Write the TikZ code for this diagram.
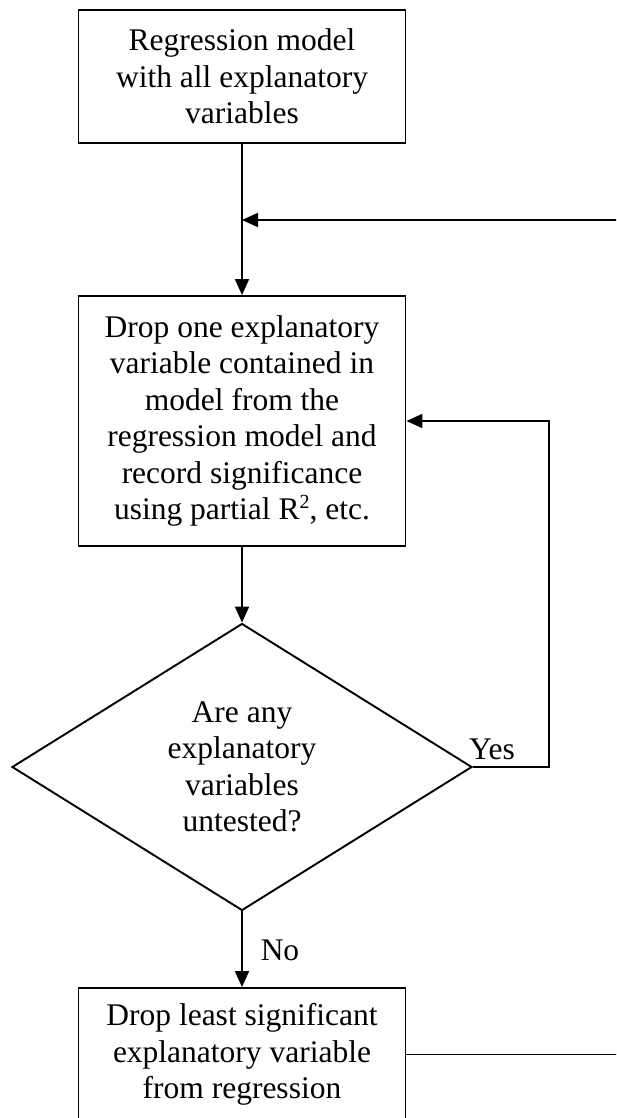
\documentclass[tikz,border=0pt]{standalone}
\usepackage{fontspec}
\setmainfont{Liberation Serif}
\usetikzlibrary{shapes.geometric,arrows.meta}

\tikzset{
  flow/.style={line width=1.9pt, draw=black},
  arrowline/.style={flow, -{Triangle[length=16pt,width=14pt]}},
  procbox/.style={rectangle, draw=black, line width=1.9pt, fill=white,
    minimum width=327pt, inner sep=0pt, align=center,
    font=\fontsize{31.5}{36.5}\selectfont},
  decision/.style={diamond, draw=black, line width=1.9pt, fill=white,
    minimum width=460pt, minimum height=287pt, inner sep=0pt,
    shape aspect=1.6, align=center,
    font=\fontsize{31.5}{36.5}\selectfont},
  edgelabel/.style={font=\fontsize{31.5}{36.5}\selectfont, inner sep=0pt}
}
\newcommand{\sqmark}{\raisebox{0.75ex}{\fontsize{20}{20}\selectfont 2}}

\begin{document}
\begin{tikzpicture}[x=1pt,y=-1pt]
  \useasboundingbox (0,0) rectangle (616,1118);
  \fill[white] (0,0) rectangle (616,1118);
  \clip (0,0) rectangle (616,1118);

  % process steps
  \node[procbox, minimum height=133pt] (start) at (242,76.5)
    {Regression model\\with all explanatory\\variables};
  \node[procbox, minimum height=250pt] (drop) at (242,421)
    {Drop one explanatory\\variable contained in\\model from the\\regression model and\\record significance\\using partial R\sqmark, etc.};
  \node[decision] (test) at (242,767)
    {Are any\\explanatory\\variables\\untested?};
  \node[procbox, minimum height=133pt] (least) at (242,1054.5)
    {Drop least significant\\explanatory variable\\from regression};

  % routing points
  \coordinate (merge) at (242,220);
  \coordinate (yescorner) at (549,767);
  \coordinate (yestop) at (549,421);
  \coordinate (backlow) at (660,1054.5);
  \coordinate (backhigh) at (660,220);

  % connectors
  \draw[flow] (start.south) -- (merge);
  \draw[arrowline] (merge) -- (drop.north);
  \draw[arrowline] (drop.south) -- (test.north);
  \draw[arrowline] (test.east) -- (yescorner) -- (yestop) -- (drop.east);
  \draw[arrowline] (test.south) -- (least.north);
  \draw[arrowline] (least.east) -- (backlow) -- (backhigh) -- (merge);

  % branch labels
  \node[edgelabel, anchor=base] (yes) at (492,759) {Yes};
  \node[edgelabel, anchor=base] (no) at (280,960) {No};
\end{tikzpicture}
\end{document}
